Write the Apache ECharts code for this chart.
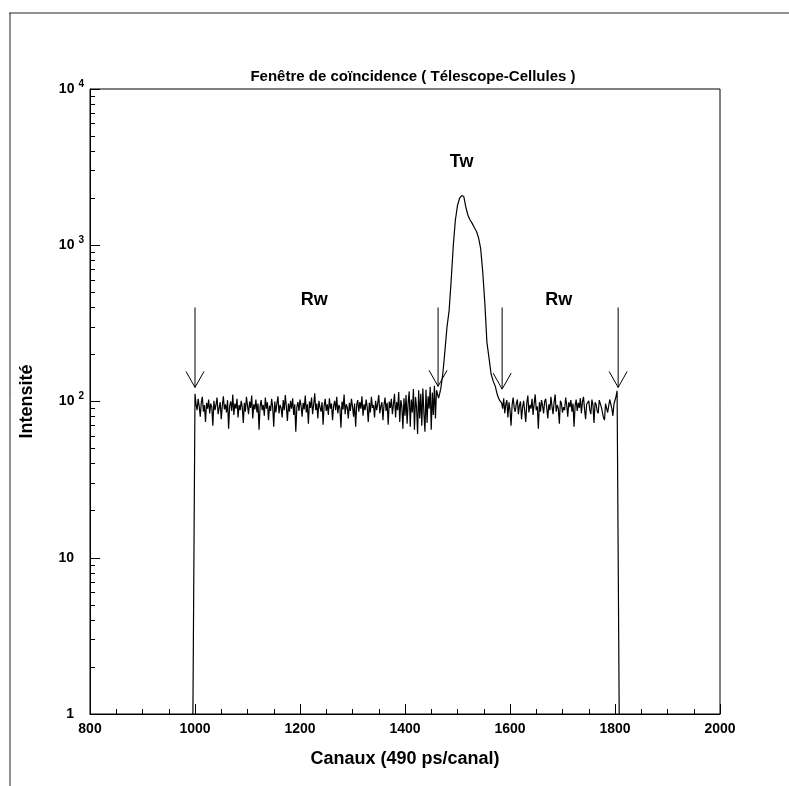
<!DOCTYPE html>
<html>
<head>
<meta charset="utf-8">
<script src="https://cdn.jsdelivr.net/npm/echarts@6/dist/echarts.min.js"></script>
<style>
html,body{margin:0;padding:0;background:#fff;}
#c{width:789px;height:786px;}
</style>
</head>
<body>
<div id="c"></div>
<script>
// ---- data ----
const titleText = 'Fenêtre de coïncidence ( Télescope-Cellules )';
const xTitle = 'Canaux (490 ps/canal)';
const yTitle = 'Intensité';
const xTickLabels = [800, 1000, 1200, 1400, 1600, 1800, 2000];
const yMajorTicks = [1, 10, 100, 1000, 10000];
const yMinorTicks = [2,3,4,5,6,7,8,9,20,30,40,50,60,70,80,90,200,300,400,500,600,700,800,900,2000,3000,4000,5000,6000,7000,8000,9000];

// left edge
const leftEdge = [[996, 1]];
// left flat region (Rw), channels 1000..1460, bin 2
const leftStart = 1000, leftBin = 2;
const leftCounts = [
  112,96,88,104,93,80,99,107,86,95,74,98,90,103,84,97,92,70,101,88,
  95,106,83,91,99,77,94,108,89,96,85,102,67,93,100,87,111,82,97,90,
  104,79,95,88,101,92,73,98,86,107,94,83,100,91,109,78,96,89,103,85,
  97,66,93,102,88,95,81,106,90,99,76,94,87,104,92,69,100,85,97,108,
  84,95,91,79,102,88,110,93,75,97,86,101,90,105,82,96,64,92,99,87,
  103,94,80,98,89,109,85,96,72,100,91,106,83,95,113,88,97,78,101,92,
  86,99,71,94,104,87,96,82,105,90,97,76,93,101,88,107,84,95,91,68,
  100,89,111,83,96,92,78,98,87,104,93,80,97,69,95,102,86,99,90,108,
  81,96,88,103,92,74,98,85,107,91,95,79,101,88,97,110,84,93,99,76,
  95,106,87,98,71,100,91,104,83,96,112,79,99,88,115,74,102,93,67,105,
  81,110,72,98,116,69,103,85,120,66,107,92,62,118,78,112,70,121,84,64,
  119,73,108,90,124,66,114,82,126,78,118];
// peak region (Tw), channels 1464..1580, bin 4
const peakStart = 1464, peakBin = 4;
const peakCounts = [105,120,150,210,300,380,600,1000,1450,1800,2000,2080,2050,1750,1550,1450,
  1380,1300,1230,1120,960,680,430,240,190,150,135,125,110,102];
// right flat region (Rw), channels 1584..1804, bin 2
const rightStart = 1584, rightBin = 2;
const rightCounts = [
  98,90,105,84,96,102,79,99,88,70,95,106,91,86,97,103,83,94,100,77,
  92,101,87,74,98,109,85,95,90,104,82,97,111,88,93,67,99,86,102,94,
  84,100,104,91,78,96,88,107,93,83,99,111,86,95,90,72,101,97,85,92,
  88,106,95,80,99,92,102,86,97,69,94,103,87,98,91,105,84,100,107,89,
  77,96,94,101,88,83,103,95,73,99,96,87,84,102,100,92,90,79,76,97,
  98,85,87,103,104,90,81,96,95,108,117];
const rightEdge = [[1808, 1]];

// arrows: channel, top value, tip value
const arrows = [[1000, 400, 123], [1463, 400, 125], [1585, 400, 120], [1806, 400, 123]];
// region labels: channel, value, text
const regionLabels = [[1227, 445, 'Rw'], [1508, 3400, 'Tw'], [1693, 445, 'Rw']];

// ---- build series data ----
function seg(start, bin, counts){ return counts.map((v,i)=>[start + i*bin, v]); }
const spectrum = [].concat(leftEdge, seg(leftStart,leftBin,leftCounts),
  seg(peakStart,peakBin,peakCounts), seg(rightStart,rightBin,rightCounts), rightEdge);

const F = 'Liberation Sans, Arial, Helvetica, sans-serif';
const chart = echarts.init(document.getElementById('c'), null, {renderer:'canvas'});
chart.setOption({
  animation:false,
  backgroundColor:'#fff',
  title:{text:titleText, left:408, top:64, textAlign:'center',
    textStyle:{fontFamily:F, fontSize:15, fontWeight:'bold', color:'#000'}},
  graphic:[
    {type:'line', shape:{x1:9,y1:13,x2:789,y2:13}, style:{stroke:'#222', lineWidth:1}},
    {type:'line', shape:{x1:10,y1:13,x2:10,y2:786}, style:{stroke:'#222', lineWidth:1}}
  ],
  grid:{left:90, right:69, top:89, bottom:72, show:true, borderColor:'#000', borderWidth:1, backgroundColor:'transparent'},
  xAxis:{type:'value', min:800, max:2000, interval:200,
    name:xTitle, nameLocation:'middle', nameGap:36,
    nameTextStyle:{fontFamily:F, fontSize:18, fontWeight:'bold', color:'#000'},
    axisLine:{show:true, lineStyle:{color:'#000', width:1}},
    axisTick:{show:true, inside:true, length:10, lineStyle:{color:'#000'}},
    minorTick:{show:true, splitNumber:4, length:5, lineStyle:{color:'#000'}},
    splitLine:{show:false},
    axisLabel:{fontFamily:F, fontSize:14, fontWeight:'bold', color:'#000', margin:8,
      customValues:xTickLabels, formatter:function(v){ return String(v); }}
  },
  yAxis:[
    {type:'log', logBase:10, min:1, max:10000, position:'left',
      name:yTitle, nameLocation:'middle', nameGap:54,
      nameTextStyle:{fontFamily:F, fontSize:18, fontWeight:'bold', color:'#000'},
      axisLine:{show:true, lineStyle:{color:'#000', width:1}},
      axisTick:{show:true, inside:true, length:10, lineStyle:{color:'#000'}, customValues:yMajorTicks},
      splitLine:{show:false},
      axisLabel:{margin:6, customValues:yMajorTicks,
        formatter:function(v){
          const e = Math.round(Math.log10(v));
          if (e >= 2) return '{b|10}{s|' + e + '}';
          return '{b|' + (e===1?'10':'1') + '}{p|}';
        },
        rich:{
          b:{fontFamily:F, fontSize:14, fontWeight:'bold', color:'#000'},
          s:{fontFamily:F, fontSize:10, fontWeight:'bold', color:'#000', padding:[0,0,10,4]},
          p:{width:10}
        }
      }
    },
    {type:'log', logBase:10, min:1, max:10000, position:'left',
      axisLine:{show:false},
      axisTick:{show:true, inside:true, length:5, lineStyle:{color:'#000'}, customValues:yMinorTicks},
      axisLabel:{show:false}, splitLine:{show:false}
    }
  ],
  series:[
    {type:'line', data:spectrum, showSymbol:false, symbol:'none',
      lineStyle:{color:'#000', width:1.2}, z:3},
    {type:'custom', data:arrows, z:4,
      encode:{x:0, y:[1,2]},
      renderItem:function(params, api){
        const x = api.value(0);
        const p1 = api.coord([x, api.value(1)]);
        const p2 = api.coord([x, api.value(2)]);
        return {type:'group', children:[
          {type:'line', shape:{x1:p1[0],y1:p1[1],x2:p2[0],y2:p2[1]}, style:{stroke:'#000', lineWidth:1}},
          {type:'polyline', shape:{points:[[p2[0]-9,p2[1]-16],[p2[0],p2[1]],[p2[0]+9,p2[1]-16]]}, style:{stroke:'#000', fill:null, lineWidth:1}}
        ]};
      }
    },
    {type:'scatter', symbolSize:0, z:5, itemStyle:{opacity:1, color:'#000'},
      emphasis:{disabled:true},
      data:regionLabels.map(r=>({value:[r[0], r[1]], name:r[2]})),
      label:{show:true, position:'inside', formatter:'{b}', fontFamily:F, fontSize:18, fontWeight:'bold', color:'#000', opacity:1}
    }
  ]
});
</script>
</body>
</html>
